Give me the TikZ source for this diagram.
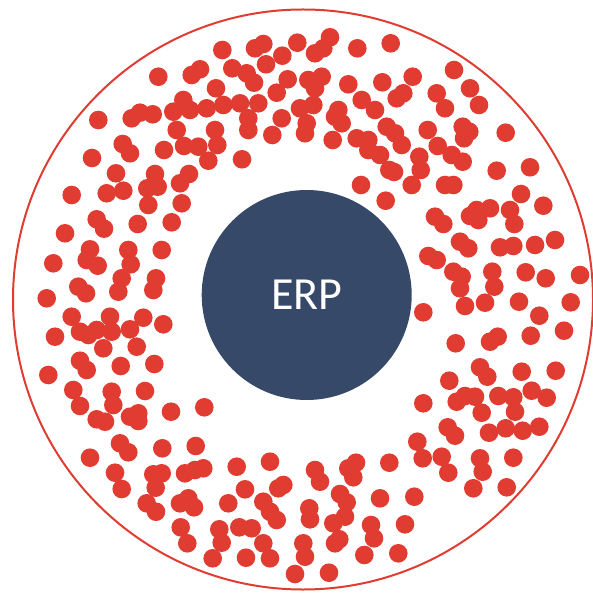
\documentclass[tikz,border=0pt]{standalone}
\usepackage{fontspec}
\newfontfamily\erpfont{Carlito}
\definecolor{dotred}{HTML}{E03C31}
\definecolor{erpnavy}{HTML}{374968}
\tikzset{
  dot/.style={fill=dotred},
  ring/.style={draw=dotred, line width=2pt},
  hub/.style={circle, fill=erpnavy, minimum size=210pt, inner sep=0pt, text=white, font=\erpfont\fontsize{46}{46}\selectfont}
}
\begin{document}
\begin{tikzpicture}[x=1pt,y=-1pt]
\useasboundingbox (0,0) rectangle (593,593);
\fill[white] (0,0) rectangle (593,593);
\draw[ring] (303,299.5) circle[radius=290pt];
\foreach \p in {
(222.3,50),(255,48.3),(263.3,44),(282.3,55.7),(297.3,42.7),(266,64.3),(232.3,68.3),(246.7,73.3),(254,82.7),(287.7,79.3),
(158.3,76.7),(200,69.3),(191.7,75),(216,88.3),(276.7,92.7),(300,108.3),(281.7,118.3),(183.3,100),(173.3,111.7),(190,110),
(206.7,108.3),(223.3,105),(240,103.3),(258.3,103.3),(248.3,118.3),(248.3,130),(272.3,135),(98.3,120),(131.7,118.3),(140,112.7),
(152.7,114.3),(176.7,130),(215,130),(217.3,145),(184,146),(198.3,146.7),(208.3,160.7),(242,159.3),(164,150),(122.7,144),
(130,153.3),(92,158),(116,173.3),(106.7,193.3),(123.3,190.7),(155,174),(147.3,188.3),(157.7,186.7),(148.3,205),(180,183.3),
(189,174),(181.7,203.3),(71.7,195),(96.7,219.3),(104,228.7),(137.7,224),(171.7,222.3),(65,233.3),(90,249.3),(86.7,260),
(97.7,265.7),(128.3,250),(130.7,264.3),(161.7,250),(53.3,263.3),(78.3,286.7),(86,293.3),(121.7,278.3),(118.3,291.7),(156,278.3),
(153.3,290),(46.7,298.3),
(330,37.3),(323.3,48.3),(315,53.3),(357.3,48.3),(390.7,43.3),(454,70),(412.7,76.7),(382.3,82.3),(348.3,84.3),(321.7,76.7),
(308.3,80),(315,88.3),(313.3,105),(306.7,123.3),(305,133.3),(338.3,110),(335,116.7),(341.7,123.3),(361.7,100),(375,110),
(396.7,98.3),(403.3,93.3),(436.7,93.3),(445,108.3),(470,88.3),(479,105),(332.7,140),(356.7,138.3),(368.3,140),(368.3,150),
(380,155),(386.7,126.7),(395,133.3),(401.7,145),(389.3,170),(394,172),(419.3,156.7),(420.7,170),(411.7,185),(427.7,130),
(437.7,146),(451.7,155),(462.7,161.7),(462.7,126.7),(469.3,131.7),(464,138.3),(445,185),(453.3,185),(505.7,132.7),(496.7,170.7),
(530,167.3),(361,185),(385.7,200.7),(435,216.7),(443.3,224),(470,216),(478.3,220),(476.7,210),(490,208.3),(510,210),
(514.3,224),(521,194),(543.3,205.7),(460,241.7),(468.3,248.3),(500,247.3),(513.3,246),(535,245),(555,240),(428.3,256),
(436.7,260),(453.3,271.7),(461.7,276.7),(460,288.3),(492.3,271.7),(494.3,286.7),(525.7,272.3),(545.7,278.3),(580,275),
(71.7,316.7),(110,316.7),(143.3,317.7),(163.3,324.3),(55,336.7),(80,331.7),(88.3,335),(96.7,330),(111.7,331.7),(130,329.3),
(103.3,348.3),(136.7,346.7),(80,360.7),(86.7,370),(120.7,366),(154.3,364),(48.3,375),(73.3,390),(80,406),(111.7,391.7),
(113.3,405),(145,391),(96.7,419.3),(105,421.7),(130,416.7),(138.3,413.3),(138.3,421),(171,411.7),(204.3,407.3),(90,457.7),
(120,443.3),(128.3,452.3),(162.3,448.3),(195.7,446),(115,472.7),(121.7,489),(153.3,474.3),(161.7,473.3),(155.7,487.7),(146.7,503.3),
(156,511.7),(185,473.3),(203.3,468.3),(195,470),(180,503.3),(188.3,498.3),(194,507.3),(236.7,466.7),(270,461.7),(245,489.3),
(228.3,503.3),(283.3,485),(278.3,488.3),(263.3,501.7),(276.7,520),(270,511.7),(180.7,527.3),(187.3,543.3),(219.3,529.3),(221.7,542.7),
(239.3,527.3),(251.7,528.3),(263.3,543.3),(212.7,558.3),(246,557.7),(270,558.3),(295,574),
(423.3,312.3),(465,306),(485,302.7),(519,301.7),(539.3,315.7),(570.7,302.3),(564,330.7),(530.7,335.7),(455.7,343.3),(490,341.7),
(497.7,336.7),(480,367.3),(487.3,376.7),(521.7,371.7),(555.7,370.7),(449.3,380.7),(423.3,403.3),(456.7,401.7),(465,396),(475,396.7),
(481.7,412.7),(498.3,396),(513.3,397.3),(515,411.7),(531.7,390.7),(546.7,397.7),(447.7,427.3),(455,435.7),(489,432.7),(505.7,428.3),
(522.7,430.7),(539.3,426.7),(417.3,441.7),(422.7,458.3),(441.7,456.7),(448.3,472.7),(480,458.3),(482.7,471.7),(513.3,457.7),(473.3,488.3),
(506.7,487.3),(389.3,462.7),(315,470),(320,481.7),(348.3,468.3),(356,462.7),(353.3,477.3),(340,494),(346.7,502.3),(345,516.7),
(333.3,523.3),(339.3,539.3),(335,543.3),(380,498.3),(414.3,496.7),(371,525),(374,538.3),(405,524.3),(364.3,555),(398.3,553.3),
(309.3,508.3),(310,519.3),(303.3,543.3),(305,556.7),(329,572.7)}
  \fill[dot] \p circle[radius=9.3pt];
\node[hub] (erp) at (306.7,295) {ERP};
\end{tikzpicture}
\end{document}
